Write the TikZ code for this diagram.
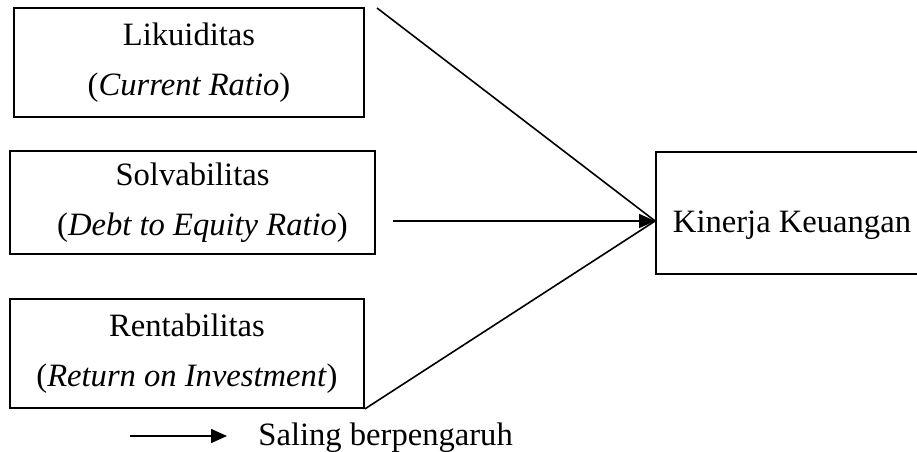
\documentclass[tikz,border=0pt]{standalone}
\usepackage{fontspec}
\setmainfont{Liberation Serif}
\usetikzlibrary{arrows.meta}

\begin{document}
\begin{tikzpicture}[x=0.5pt,y=-0.5pt,>={Triangle[length=8pt,width=7pt]},
  kotak/.style={draw,line width=0.9pt,inner sep=0pt,align=center,
    font=\fontsize{16.3}{25}\selectfont},
  garis/.style={line width=0.8pt},
  panah/.style={garis,->}]
  \useasboundingbox (0,0) rectangle (917,451);
  % variabel bebas
  \node[kotak,minimum width=175pt,minimum height=54.5pt] (likuiditas)
    at (189,62.5) {Likuiditas\\(\textit{Current Ratio})};
  \node[kotak,minimum width=182.5pt,minimum height=51.5pt] (solvabilitas)
    at (192.5,202.5) {Solvabilitas\\\hspace{10pt}(\textit{Debt to Equity Ratio})};
  \node[kotak,minimum width=177pt,minimum height=54.5pt] (rentabilitas)
    at (187,353.5) {Rentabilitas\\(\textit{Return on Investment})};
  % variabel terikat
  \node[kotak,minimum width=136pt,minimum height=61pt,text height=19pt,
    text depth=0pt] (kinerja) at (792,213) {Kinerja Keuangan};
  \coordinate (tip) at ([yshift=-4pt]kinerja.west);
  \coordinate (awal1) at (377,8);
  \coordinate (awal2) at (393,221);
  \draw[garis] (awal1) -- (tip);
  \draw[garis] (rentabilitas.south east) -- (tip);
  \draw[panah] (awal2) -- (tip);
  % keterangan
  \coordinate (leg1) at (130,436);
  \coordinate (leg2) at (227,436);
  \draw[panah] (leg1) -- (leg2);
  \node[anchor=base west,inner sep=0pt,font=\fontsize{16.3}{25}\selectfont]
    (ket) at (258,445) {Saling berpengaruh};
\end{tikzpicture}
\end{document}
